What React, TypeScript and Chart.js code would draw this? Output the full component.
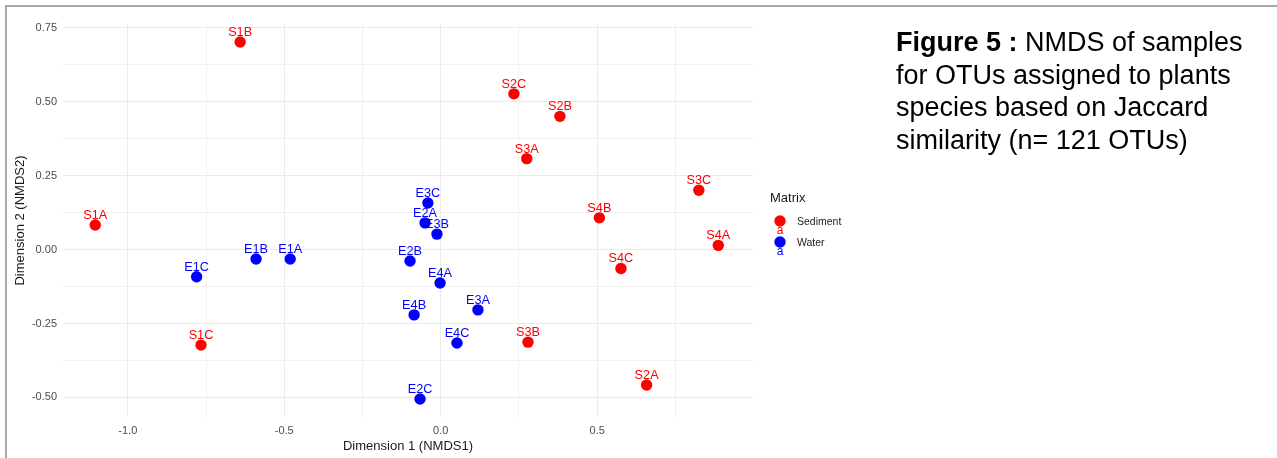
import React, { useEffect, useRef } from "react";
import { Chart, registerables } from "chart.js";

Chart.register(...registerables);

// ---- Data ----
const SEDIMENT_LABELS = ["S1A", "S1B", "S1C", "S2A", "S2B", "S2C", "S3A", "S3B", "S3C", "S4A", "S4B", "S4C"];
const SEDIMENT_X = [-1.104, -0.641, -0.766, 0.658, 0.381, 0.234, 0.275, 0.279, 0.825, 0.887, 0.507, 0.576];
const SEDIMENT_Y = [0.083, 0.701, -0.323, -0.458, 0.45, 0.526, 0.307, -0.313, 0.2, 0.014, 0.107, -0.064];

const WATER_LABELS = ["E1A", "E1B", "E1C", "E2A", "E2B", "E2C", "E3A", "E3B", "E3C", "E4A", "E4B", "E4C"];
const WATER_X = [-0.481, -0.59, -0.78, -0.05, -0.098, -0.066, 0.119, -0.012, -0.041, -0.002, -0.085, 0.052];
const WATER_Y = [-0.032, -0.032, -0.092, 0.09, -0.039, -0.505, -0.204, 0.052, 0.157, -0.113, -0.221, -0.316];

const X_TICK_VALUES = [-1.0, -0.75, -0.5, -0.25, 0, 0.25, 0.5, 0.75];
const X_TICK_LABELS = ["-1.0", "", "-0.5", "", "0.0", "", "0.5", ""];
const Y_TICK_VALUES = [-0.5, -0.375, -0.25, -0.125, 0, 0.125, 0.25, 0.375, 0.5, 0.625, 0.75];
const Y_TICK_LABELS = ["-0.50", "", "-0.25", "", "0.00", "", "0.25", "", "0.50", "", "0.75"];

const SERIES_NAMES = ["Sediment", "Water"];
const LEGEND_TITLE = "Matrix";
const X_TITLE = "Dimension 1 (NMDS1)";
const Y_TITLE = "Dimension 2 (NMDS2)";
const CAPTION_BOLD = "Figure 5 :";
const CAPTION_LINES = [" NMDS of samples", "for OTUs assigned to plants", "species based on Jaccard", "similarity (n= 121 OTUs)"];

const FONT = "'Liberation Sans', Arial, Helvetica, sans-serif";
const RED = "#FF0000";
const BLUE = "#0000FF";

const pointLabelPlugin = {
  id: "pointLabels",
  beforeDatasetsDraw(chart: any) {
    const ctx = chart.ctx;
    ctx.save();
    ctx.font = `12.7px ${FONT}`;
    ctx.textAlign = "center";
    ctx.textBaseline = "alphabetic";
    chart.data.datasets.forEach((ds: any, di: number) => {
      const meta = chart.getDatasetMeta(di);
      ctx.fillStyle = ds.backgroundColor;
      meta.data.forEach((el: any, i: number) => {
        ctx.fillText(ds.pointLabels[i], el.x, el.y - 6);
      });
    });
    ctx.restore();
  },
  afterDraw(chart: any) {
    const ctx = chart.ctx;
    ctx.save();
    ctx.fillStyle = "#1a1a1a";
    ctx.font = `13px ${FONT}`;
    ctx.textAlign = "left";
    ctx.textBaseline = "middle";
    ctx.fillText(LEGEND_TITLE, 770, 198);
    const rows = [221, 242];
    chart.data.datasets.forEach((ds: any, di: number) => {
      const cy = rows[di];
      ctx.fillStyle = ds.backgroundColor;
      ctx.font = `12px ${FONT}`;
      ctx.textAlign = "center";
      ctx.textBaseline = "alphabetic";
      ctx.fillText("a", 780, cy + 12.8);
      ctx.beginPath();
      ctx.arc(780, cy, 5.7, 0, Math.PI * 2);
      ctx.fill();
      ctx.fillStyle = "#1a1a1a";
      ctx.font = `10.5px ${FONT}`;
      ctx.textAlign = "left";
      ctx.textBaseline = "middle";
      ctx.fillText(ds.label, 797, cy + 1.5);
    });
    ctx.restore();
  },
};

export default function App() {
  const ref = useRef<HTMLCanvasElement | null>(null);

  useEffect(() => {
    if (!ref.current) return;
    const sediment = SEDIMENT_X.map((x, i) => ({ x, y: SEDIMENT_Y[i] }));
    const water = WATER_X.map((x, i) => ({ x, y: WATER_Y[i] }));
    const chart = new Chart(ref.current, {
      type: "scatter",
      data: {
        datasets: [
          {
            label: SERIES_NAMES[0],
            data: sediment,
            backgroundColor: RED,
            borderColor: RED,
            pointRadius: 5.7,
            pointHoverRadius: 5.7,
            borderWidth: 0,
            pointLabels: SEDIMENT_LABELS,
          } as any,
          {
            label: SERIES_NAMES[1],
            data: water,
            backgroundColor: BLUE,
            borderColor: BLUE,
            pointRadius: 5.7,
            pointHoverRadius: 5.7,
            borderWidth: 0,
            pointLabels: WATER_LABELS,
          } as any,
        ],
      },
      options: {
        animation: false,
        responsive: false,
        devicePixelRatio: 1,
        layout: { padding: { left: 0, top: 24, right: 524, bottom: 0 } },
        plugins: {
          legend: { display: false },
          tooltip: { enabled: false },
        },
        scales: {
          x: {
            type: "linear",
            min: -1.207,
            max: 0.998,
            afterBuildTicks: (s: any) => {
              s.ticks = X_TICK_VALUES.map((v) => ({ value: v }));
            },
            afterFit: (s: any) => {
              s.height = 41;
            },
            ticks: {
              autoSkip: false,
              maxRotation: 0,
              padding: 7,
              color: "#4d4d4d",
              font: { family: FONT, size: 11 },
              callback: (_v: any, i: number) => X_TICK_LABELS[i],
            },
            grid: {
              color: (c: any) => (X_TICK_LABELS[c.index] ? "#ebebeb" : "#f0f0f0"),
              lineWidth: 1,
              drawTicks: false,
            },
            border: { display: false },
            title: {
              display: true,
              text: X_TITLE,
              color: "#1a1a1a",
              font: { family: FONT, size: 13 },
              padding: { top: 0, bottom: 3.7 },
            },
          },
          y: {
            type: "linear",
            min: -0.566,
            max: 0.762,
            afterBuildTicks: (s: any) => {
              s.ticks = Y_TICK_VALUES.map((v) => ({ value: v }));
            },
            afterFit: (s: any) => {
              s.width = 63;
            },
            ticks: {
              autoSkip: false,
              padding: 6,
              color: "#4d4d4d",
              font: { family: FONT, size: 11 },
              callback: (_v: any, i: number) => Y_TICK_LABELS[i],
            },
            grid: {
              color: (c: any) => (Y_TICK_LABELS[c.index] ? "#ebebeb" : "#f0f0f0"),
              lineWidth: 1,
              drawTicks: false,
            },
            border: { display: false },
            title: {
              display: true,
              text: Y_TITLE,
              color: "#1a1a1a",
              font: { family: FONT, size: 13 },
              padding: { top: 13, bottom: 0 },
            },
          },
        },
      } as any,
      plugins: [pointLabelPlugin],
    });
    return () => chart.destroy();
  }, []);

  return (
    <div style={{ position: "fixed", left: 0, top: 0, width: 1277, height: 458, background: "#fff", overflow: "hidden" }}>
      <canvas ref={ref} width={1277} height={458} style={{ position: "absolute", left: 0, top: 0, width: 1277, height: 458 }} />
      <div
        style={{
          position: "absolute",
          left: 5,
          top: 5,
          right: 0,
          bottom: 0,
          borderTop: "2px solid #a8a8a8",
          borderLeft: "2px solid #a8a8a8",
          pointerEvents: "none",
        }}
      />
      <div
        style={{
          position: "absolute",
          left: 896,
          top: 26,
          whiteSpace: "nowrap",
          fontFamily: FONT,
          fontSize: 27,
          lineHeight: "32.5px",
          color: "#000",
        }}
      >
        {CAPTION_LINES.map((line, i) => (
          <div key={i}>
            {i === 0 ? <b>{CAPTION_BOLD}</b> : null}
            {line}
          </div>
        ))}
      </div>
    </div>
  );
}
